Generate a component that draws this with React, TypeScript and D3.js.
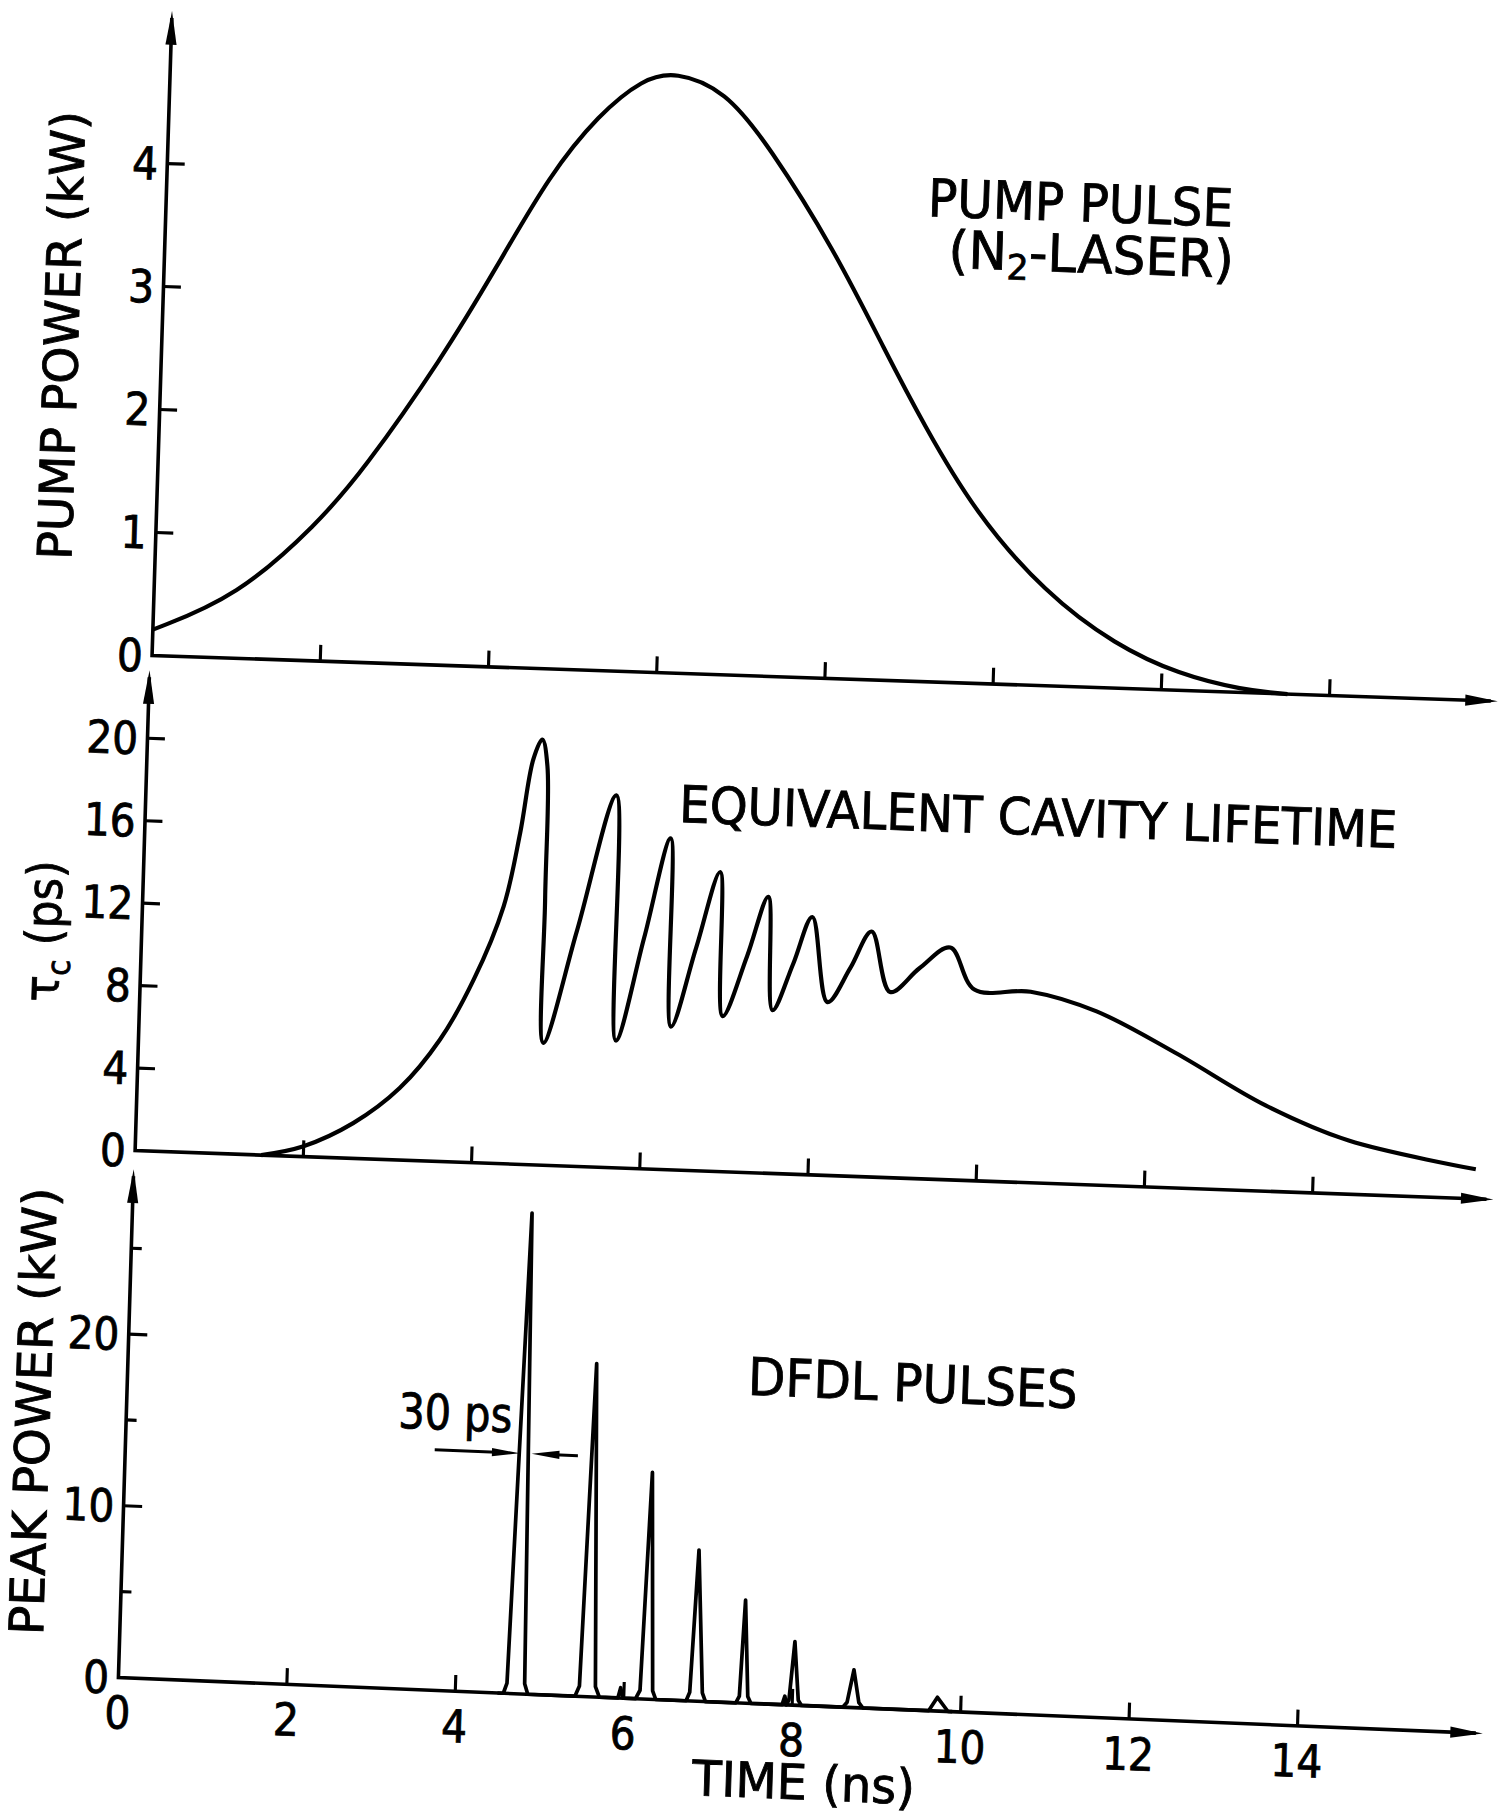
import React from "react";
import * as d3 from "d3";

// values (time in ns)
const pumpTime = [0, 0.99, 1.92, 2.43, 3.34, 3.95, 4.55, 5.11, 5.62, 6.0, 6.6, 7.14, 7.95, 8.6, 9.08, 9.72, 10.59, 11.44, 12.2, 12.97, 13.5];
const pumpPower = [0.21, 0.5, 1.12, 1.55, 2.5, 3.25, 4.02, 4.52, 4.82, 4.89, 4.75, 4.31, 3.49, 2.67, 2.09, 1.39, 0.75, 0.35, 0.13, 0.02, 0];

const tauTime = [1.5, 1.99, 2.58, 3.12, 3.58, 3.96, 4.29, 4.46, 4.59, 4.69, 4.76, 4.78, 4.81, 5.17, 5.59, 5.67, 5.97, 6.25, 6.32, 6.59, 6.85, 6.93, 7.2, 7.43, 7.52, 7.75, 7.96, 8.17, 8.43, 8.67, 8.91, 9.25, 9.61, 9.91, 10.58, 11.37, 12.33, 13.41, 14.41, 15.93];
const tauPs = [0, 0.49, 1.71, 3.49, 5.9, 8.87, 12.48, 16.06, 19.65, 20.63, 19.35, 12.9, 5.93, 11.43, 18.05, 6.17, 11.2, 16.06, 6.94, 10.79, 14.52, 7.54, 10.5, 13.4, 7.91, 10.2, 12.5, 8.4, 10.1, 11.9, 9.0, 10.2, 11.26, 9.27, 9.26, 8.42, 6.53, 4.16, 2.6, 1.43];

const pulseTime = [4.5, 4.57, 4.61, 4.74, 4.82, 4.86, 5.42, 5.47, 5.56, 5.66, 5.71, 5.93, 5.96, 5.99, 6.14, 6.19, 6.26, 6.34, 6.38, 6.74, 6.78, 6.84, 6.93, 6.97, 7.33, 7.37, 7.41, 7.47, 7.51, 7.88, 7.91, 7.93, 7.96, 8.01, 8.07, 8.11, 8.6, 8.65, 8.72, 8.79, 8.84, 9.62, 9.72, 9.85, 9.9];
const pulsePower = [0, 0, 0.6, 28.0, 0.6, 0, 0, 0.6, 19.4, 0.6, 0, 0, 0.6, 0, 0, 0.5, 13.2, 0.5, 0, 0, 0.5, 8.8, 0.5, 0, 0, 0.4, 6.0, 0.4, 0, 0, 0.5, 0, 0.3, 3.7, 0.3, 0, 0, 0.3, 2.2, 0.3, 0, 0, 0.8, 0, 0];

const timeTicks = [2, 4, 6, 8, 10, 12, 14];
const timeLabels = [0, 2, 4, 6, 8, 10, 12, 14];
const pumpTicks = [1, 2, 3, 4];
const pumpLabels = [0, 1, 2, 3, 4];
const tauTicks = [4, 8, 12, 16, 20];
const tauLabels = [0, 4, 8, 12, 16, 20];
const peakTicks = [5, 10, 15, 20, 25];
const peakLabels = [0, 10, 20];

// "30 ps" width marker: level (kW) and arrow start/end times
const markLevel = 14;
const markLeft = [3.67, 4.68];
const markRight = [5.37, 4.82];

// the scan is slightly skewed, each panel gets its own frame (viewBox units)
const pumpFrame = { x0: 131, y0: 565, slope: 0.034, lean: 0.031, kx: 72.5, ky: 106, xTip: 16.0, yTip: 5.24 };
const tauFrame = { x0: 116.4, y0: 991.8, slope: 0.036, lean: 0.03, kx: 72.5, ky: 17.77, xTip: 16.15, yTip: 23.3 };
const peakFrame = { x0: 102, y0: 1446, slope: 0.041, lean: 0.03, kx: 72.6, ky: 14.8, xTip: 16.2, yTip: 29.6 };

const FONT = "'Liberation Sans Narrow', 'DejaVu Sans Condensed', 'Liberation Sans', Arial, sans-serif";
const INK = { stroke: "#000", strokeWidth: 0.7 };

type Frame = typeof pumpFrame;

const scales = (f: Frame) => ({
  x: d3.scaleLinear().domain([0, f.xTip]).range([0, f.xTip * f.kx]),
  y: d3.scaleLinear().domain([0, f.yTip]).range([0, -f.yTip * f.ky]),
});

const matrix = (f: Frame) => `matrix(1 ${f.slope} ${-f.lean} 1 ${f.x0} ${f.y0})`;

function Axes({ f, yTicks, yLabels, tickLen }: { f: Frame; yTicks: number[]; yLabels: number[]; tickLen: (v: number) => number }) {
  const { x, y } = scales(f);
  const xt = x(f.xTip);
  const yt = y(f.yTip);
  return (
    <g>
      <path d={`M${xt - 6},0 H0 V${yt + 6}`} fill="none" stroke="#000" strokeWidth={3.1} />
      <path d={`M${xt},0 l-28,-4.8 l0,9.6 z`} fill="#000" />
      <path d={`M0,${yt} l-4.8,29 l9.6,0 z`} fill="#000" />
      {timeTicks.map((t) => (
        <line key={t} x1={x(t)} x2={x(t)} y1={0} y2={-14} stroke="#000" strokeWidth={2.7} />
      ))}
      {yTicks.map((v) => (
        <line key={v} x1={0} x2={tickLen(v)} y1={y(v)} y2={y(v)} stroke="#000" strokeWidth={2.7} />
      ))}
      {yLabels.map((v) => (
        <text key={v} x={-8} y={y(v)} dy="0.36em" textAnchor="end" fontSize={39} {...INK}>
          {v}
        </text>
      ))}
    </g>
  );
}

const curve = (f: Frame, xs: number[], ys: number[], c: d3.CurveFactory) => {
  const { x, y } = scales(f);
  return d3
    .line<[number, number]>()
    .x((d) => x(d[0]))
    .y((d) => y(d[1]))
    .curve(c)(d3.zip(xs, ys) as [number, number][]) as string;
};

export default function App() {
  const p3 = scales(peakFrame);
  const my = p3.y(markLevel);
  const smooth = d3.curveCatmullRom.alpha(0.5);
  return (
    <div style={{ position: "absolute", left: 0, top: 0, background: "#fff" }}>
      <svg width={1499} height={1819} viewBox="0 0 1292 1568" style={{ display: "block" }} fontFamily={FONT} fill="#000">
        <rect x={0} y={0} width={1292} height={1568} fill="#fff" />

        {/* panel 1: pump pulse */}
        <g transform={matrix(pumpFrame)}>
          <Axes f={pumpFrame} yTicks={pumpTicks} yLabels={pumpLabels} tickLen={() => 15} />
          <path d={curve(pumpFrame, pumpTime, pumpPower, d3.curveBasis)} fill="none" stroke="#000" strokeWidth={3.6} />
          <text x={656} y={-401} fontSize={45} textLength={263} lengthAdjust="spacingAndGlyphs" {...INK}>PUMP PULSE</text>
          <text x={675} y={-357} fontSize={45} textLength={246} lengthAdjust="spacingAndGlyphs" {...INK}>
            (N<tspan fontSize={30} dy={8}>2</tspan>
            <tspan dy={-8}>-LASER)</tspan>
          </text>
        </g>

        {/* panel 2: equivalent cavity lifetime */}
        <g transform={matrix(tauFrame)}>
          <Axes f={tauFrame} yTicks={tauTicks} yLabels={tauLabels} tickLen={() => 15} />
          <path d={curve(tauFrame, tauTime, tauPs, smooth)} fill="none" stroke="#000" strokeWidth={3.6} strokeLinejoin="round" />
          <text x={459.6} y={-299.7} fontSize={44} textLength={619} lengthAdjust="spacingAndGlyphs" {...INK}>EQUIVALENT CAVITY LIFETIME</text>
        </g>

        {/* panel 3: DFDL pulses */}
        <g transform={matrix(peakFrame)}>
          <Axes f={peakFrame} yTicks={peakTicks} yLabels={peakLabels} tickLen={(v) => (v % 10 === 0 ? 16 : 9)} />
          <path d={curve(peakFrame, pulseTime, pulsePower, d3.curveLinear)} fill="none" stroke="#000" strokeWidth={3.2} strokeLinejoin="round" />
          {timeLabels.map((t) => (
            <text key={t} x={p3.x(t)} y={44} textAnchor="middle" fontSize={39} {...INK}>
              {t}
            </text>
          ))}
          <text x={496.6} y={81} fontSize={42} textLength={192} lengthAdjust="spacingAndGlyphs" {...INK}>TIME (ns)</text>
          <text x={534.4} y={-265.6} fontSize={45} textLength={284} lengthAdjust="spacingAndGlyphs" {...INK}>DFDL PULSES</text>
          <text x={234.3} y={-224.9} fontSize={42} textLength={98} lengthAdjust="spacingAndGlyphs" {...INK}>30 ps</text>
          <line x1={p3.x(markLeft[0])} x2={p3.x(markLeft[1]) - 20} y1={my} y2={my} stroke="#000" strokeWidth={2.6} />
          <path d={`M${p3.x(markLeft[1])},${my} l-24,-3.5 l0,7 z`} />
          <line x1={p3.x(markRight[0])} x2={p3.x(markRight[1]) + 20} y1={my} y2={my} stroke="#000" strokeWidth={2.6} />
          <path d={`M${p3.x(markRight[1])},${my} l24,-3.5 l0,7 z`} />
        </g>

        {/* rotated axis titles */}
        <text transform="translate(67.5,289.5) rotate(-88.2)" textAnchor="middle" fontSize={41} textLength={387} lengthAdjust="spacingAndGlyphs" {...INK}>
          PUMP POWER (kW)
        </text>
        <text transform="translate(52,803) rotate(-88.2)" textAnchor="middle" fontSize={42} {...INK}>
          τ<tspan fontSize={28} dy={9}>c</tspan>
          <tspan dy={-9}>  (ps)</tspan>
        </text>
        <text transform="translate(43,1217) rotate(-88.2)" textAnchor="middle" fontSize={41} textLength={386} lengthAdjust="spacingAndGlyphs" {...INK}>
          PEAK POWER (kW)
        </text>
      </svg>
    </div>
  );
}
